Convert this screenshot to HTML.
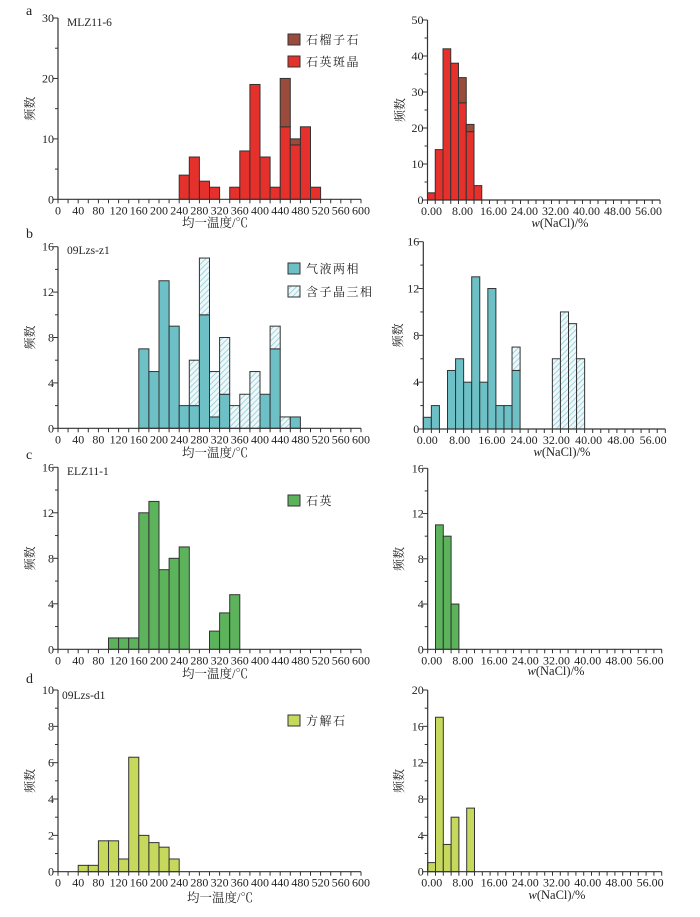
<!DOCTYPE html>
<html><head><meta charset="utf-8">
<style>
body{margin:0;background:#fff;}
svg text{font-family:"Liberation Serif","Noto Serif CJK SC","Noto Sans CJK SC",serif;fill:#222;}
</style></head>
<body>
<svg id="fig" width="700" height="912" viewBox="0 0 700 912" xmlns="http://www.w3.org/2000/svg">
<defs>
<pattern id="hatch" patternUnits="userSpaceOnUse" width="4" height="4" patternTransform="rotate(45)">
<rect width="4" height="4" fill="#eef8fa"/><line x1="0" y1="0" x2="0" y2="4" stroke="#8fcbd6" stroke-width="1.6"/>
</pattern>
</defs>
<g id="root"></g>
</svg>
<script>
// Panel a: temperature bins (start values), quartz phenocryst & garnet counts
const aTempBins=[240,260,280,300,340,360,380,400,420,440,460,480,500];
const aTempQuartz=[4,7,3,2,2,8,19,7,2,12,9,12,2];
const aTempGarnet=[0,0,0,0,0,0,0,0,0,8,1,0,0];
const aSalBins=[0,2,4,6,8,10,12];
const aSalQuartz=[2,14,42,38,27,19,4];
const aSalGarnet=[0,0,0,0,7,2,0];
// Panel b
const bTempBins=[160,180,200,220,240,260,280,300,320,340,360,380,400,420,440,460];
const bTempTwo=[7,5,13,9,2,2,10,1,3,0,0,0,3,7,0,1];
const bTempThree=[0,0,0,0,0,4,5,4,5,2,3,5,0,2,1,0];
const bSalBins=[0,2,6,8,10,12,14,16,18,20,22,32,34,36,38];
const bSalTwo=[1,2,5,6,4,13,4,12,2,2,5,0,0,0,0];
const bSalThree=[0,0,0,0,0,0,0,0,0,0,2,6,10,9,6];
// Panel c
const cTempBins=[100,120,140,160,180,200,220,240,300,320,340];
const cTempQuartz=[1,1,1,12,13,7,8,9,1.6,3.2,4.8];
const cSalBins=[2,4,6];
const cSalQuartz=[11,10,4];
// Panel d
const dTempBins=[40,60,80,100,120,140,160,180,200,220];
const dTempCalcite=[0.35,0.35,1.7,1.7,0.7,6.3,2,1.6,1.35,0.7];
const dSalBins=[0,2,4,6,10];
const dSalCalcite=[1,17,3,6,7];
// Tick label arrays
const tempTickLabels=[0,40,80,120,160,200,240,280,320,360,400,440,480,520,560,600];
const salTickLabels=["0.00","8.00","16.00","24.00","32.00","40.00","48.00","56.00"];
const yTicksA=[0,10,20,30], yTicksAR=[0,10,20,30,40,50], yTicks16=[0,4,8,12,16], yTicksD=[0,2,4,6,8,10], yTicksDR=[0,4,8,12,16,20];

const NS="http://www.w3.org/2000/svg";
const root=document.getElementById('root');
function el(tag,attrs,parent,txt){const e=document.createElementNS(NS,tag);for(const k in attrs)e.setAttribute(k,attrs[k]);if(txt!==undefined)e.textContent=txt;(parent||root).appendChild(e);return e;}

function panel(name,box,xmax,yTicks,ymin,xStep,xLabels,xLabelStep,binW,series,xTitle,cx,titleY,yTitleX,isSal){
  const g=el('g',{});
  
  
  const [x0,x1,y0,y1]=box;
  const ymax=yTicks[yTicks.length-1];
  const sx=v=>x0+(x1-x0)*v/xmax;
  const sy=v=>y0-(y0-y1)*v/ymax;
  series.forEach(s=>{
    s.bins.forEach((b,i)=>{
      let base=0;
      s.layers.forEach(L=>{
        const v=L.vals[i];
        if(v>0){
          const r=el('rect',{x:sx(b),y:sy(base+v),width:sx(b+binW)-sx(b),height:sy(base)-sy(base+v),fill:L.fill,stroke:'#333','stroke-width':1},g);
          
          
        }
        base+=v;
      });
    });
  });
  el('line',{x1:x0,y1:y0,x2:x1,y2:y0,stroke:'#333','stroke-width':1.2},g);
  el('line',{x1:x0,y1:y0,x2:x0,y2:y1,stroke:'#333','stroke-width':1.2},g);
  for(let v=0;v<=xmax+1e-9;v+=xStep){el('line',{x1:sx(v),y1:y0,x2:sx(v),y2:y0+4,stroke:'#333','stroke-width':1},g);}
  xLabels.forEach((lab,i)=>{
    const t=el('text',{x:sx(i*xLabelStep)+(isSal?4:0),y:y0+15,'font-size':12,'text-anchor':'middle'},g,String(lab));
    
    
  });
  const yStep=yTicks[1]-yTicks[0];
  for(let v=0;v<=ymax+1e-9;v+=yStep/2){const maj=Math.abs((v/yStep)-Math.round(v/yStep))<1e-6;el('line',{x1:x0,y1:sy(v),x2:x0-(maj?5:3),y2:sy(v),stroke:'#333','stroke-width':1},g);}
  yTicks.forEach(v=>{
    const t=el('text',{x:x0-4,y:sy(v)+4,'font-size':12,'text-anchor':'end'},g,String(v));
    
    
  });
  const xt=el('text',{x:cx,y:titleY,'font-size':12.5,'text-anchor':'middle'},g);
  
  
  if(isSal){el('tspan',{'font-style':'italic'},xt,'w');el('tspan',{},xt,'(NaCl)/%');}else xt.textContent=xTitle;
  const ym=(y0+y1)/2;
  const yt=el('text',{x:yTitleX,y:ym,'font-size':12,'text-anchor':'middle',transform:`rotate(-90 ${yTitleX} ${ym})`},g,'频数');
  
  
}

const red='#e5302b', garnet='#9a4b3c', teal='#6cc0c6', hatch='url(#hatch)', green='#5cb35c', lime='#c7d95c';
const L=[58,361], R=[427.5,660];
panel('panel-a-temp',[L[0],L[1],199.3,18],600,yTicksA,0,20,tempTickLabels,40,20,[{bins:aTempBins,layers:[{vals:aTempQuartz,fill:red},{vals:aTempGarnet,fill:garnet}]}],'均一温度/℃',215,227,34,false);
panel('panel-a-salinity',[R[0],R[1],200,20],60,yTicksAR,0,2,salTickLabels,8,2,[{bins:aSalBins,layers:[{vals:aSalQuartz,fill:red},{vals:aSalGarnet,fill:garnet}]}],'',560,227,404,true);
panel('panel-b-temp',[L[0],L[1],428.3,246.7],600,yTicks16,0,20,tempTickLabels,40,20,[{bins:bTempBins,layers:[{vals:bTempTwo,fill:teal},{vals:bTempThree,fill:hatch}]}],'均一温度/℃',215,457,34,false);
panel('panel-b-salinity',[423.3,665.3,429,241.7],60,yTicks16,0,2,salTickLabels,8,2,[{bins:bSalBins,layers:[{vals:bSalTwo,fill:teal},{vals:bSalThree,fill:hatch}]}],'',562,456,402,true);
panel('panel-c-temp',[L[0],L[1],649.3,467.3],600,yTicks16,0,20,tempTickLabels,40,20,[{bins:cTempBins,layers:[{vals:cTempQuartz,fill:green}]}],'均一温度/℃',215,678,34,false);
panel('panel-c-salinity',[427.7,661.7,649.3,468.3],60,yTicks16,0,2,salTickLabels,8,2,[{bins:cSalBins,layers:[{vals:cSalQuartz,fill:green}]}],'',556,675,403,true);
panel('panel-d-temp',[L[0],L[1],871.7,690],600,yTicksD,0,20,tempTickLabels,40,20,[{bins:dTempBins,layers:[{vals:dTempCalcite,fill:lime}]}],'均一温度/℃',220,902,34,false);
panel('panel-d-salinity',[427.7,661.7,871.7,690],60,yTicksDR,0,2,salTickLabels,8,2,[{bins:dSalBins,layers:[{vals:dSalCalcite,fill:lime}]}],'',557,899,403,true);

function label(txt,x,y,size,name){const t=el('text',{x:x,y:y,'font-size':size},root,txt);}
label('a',26,15,14,'panel-letter-a');label('b',26,238,14,'panel-letter-b');label('c',26,459,14,'panel-letter-c');label('d',26,683,14,'panel-letter-d');
label('MLZ11-6',67,26,11.5,'sample-label-a');label('09Lzs-z1',67,254,11.5,'sample-label-b');label('ELZ11-1',67,475,11.5,'sample-label-c');label('09Lzs-d1',62,699,11.5,'sample-label-d');
function legend(y,fill,txt,name){const g=el('g',{});el('rect',{x:288,y:y,width:12,height:11,fill:fill,stroke:'#333','stroke-width':1},g);el('text',{x:306,y:y+10,'font-size':12,'letter-spacing':'1.5'},g,txt);}
legend(34,garnet,'石榴子石','legend-garnet');legend(56,red,'石英斑晶','legend-quartz-phenocryst');
legend(263,teal,'气液两相','legend-two-phase');legend(286,hatch,'含子晶三相','legend-daughter-three-phase');
legend(495,green,'石英','legend-quartz');legend(715,lime,'方解石','legend-calcite');
</script>
</body></html>
